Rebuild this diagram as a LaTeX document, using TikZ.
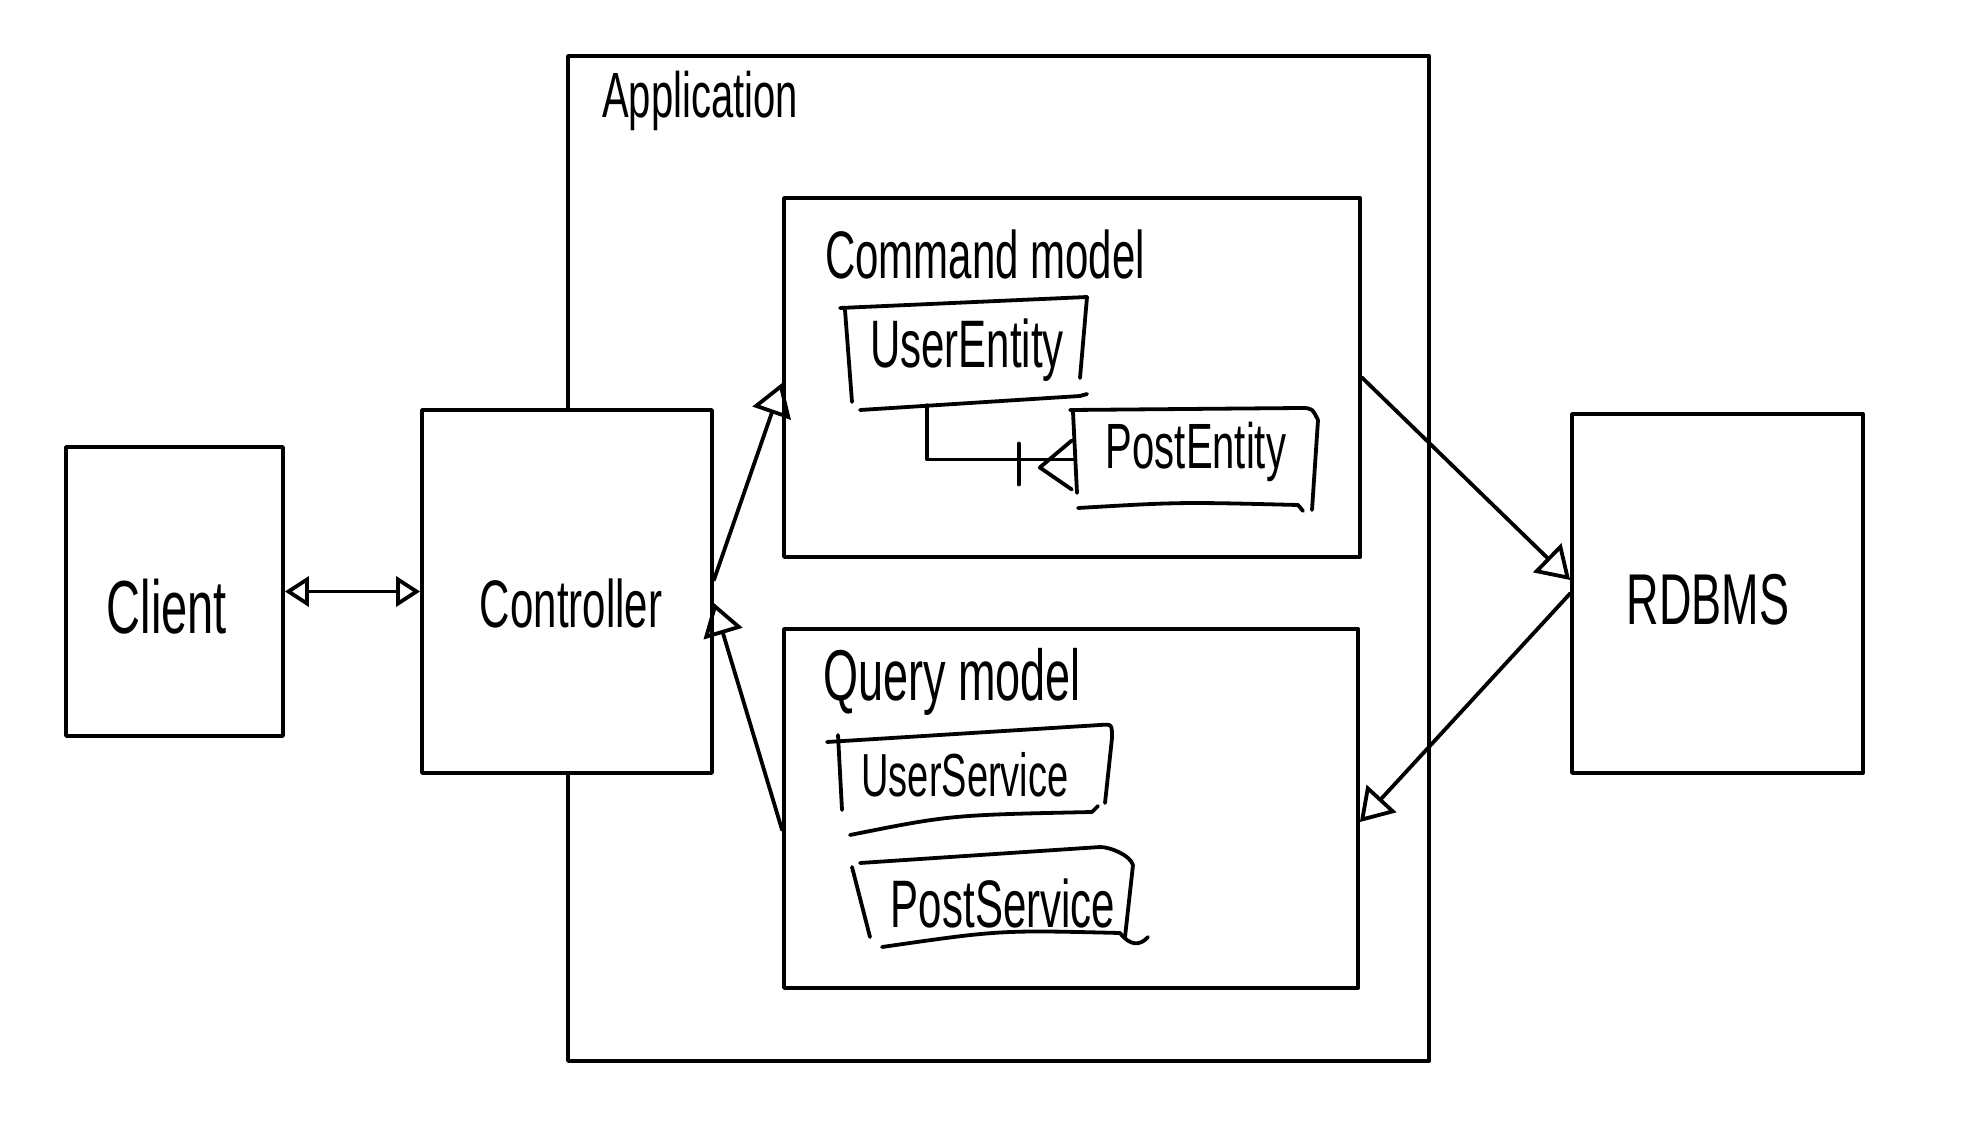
\documentclass[tikz,border=0pt]{standalone}
\usepackage{fontspec}
\setmainfont{Liberation Sans}
\usetikzlibrary{arrows.meta}
\newcommand\hw[2]{\scalebox{1}[1.6]{\fontsize{#1pt}{#1pt}\selectfont #2}}
\tikzset{
  ink/.style={line width=3.8pt, line cap=round, line join=round, black},
  bigbox/.style={ink, draw, fill=white, inner sep=0pt, rectangle},
  lbl/.style={inner sep=0pt},
  bighead/.style={-{Triangle[open, length=32pt, width=40pt, line width=3.8pt]}},
  smallhead/.style={{Triangle[open, length=24pt, width=30pt, line width=3.8pt]}-{Triangle[open, length=24pt, width=30pt, line width=3.8pt]}},
  subbox/.style={inner sep=0pt, rectangle, draw=none},
}
\begin{document}
\begin{tikzpicture}[x=1pt, y=-1pt]
\useasboundingbox (0,0) rectangle (1980,1126);
\fill[white] (0,0) rectangle (1980,1126);

% containers
\node[bigbox, minimum width=861pt, minimum height=1005pt] (app) at (998.5,558.5) {};
\node[lbl, anchor=west] (applbl) at (602,101) {\hw{40}{Application}};

\node[bigbox, minimum width=576pt, minimum height=359pt] (cmd) at (1072,377.5) {};
\node[lbl, anchor=west] (cmdlbl) at (825,254) {\hw{42}{Command model}};

\node[bigbox, minimum width=574pt, minimum height=359pt] (qry) at (1071,808.5) {};
\node[lbl, anchor=west] (qrylbl) at (823,682) {\hw{45}{Query model}};

\node[bigbox, minimum width=217pt, minimum height=289pt] (client) at (174.5,591.5) {};
\node[lbl] (clientlbl) at (167,607) {\hw{47}{Client}};

\node[bigbox, minimum width=290pt, minimum height=363pt] (ctrl) at (567,591.5) {};
\node[lbl] (ctrllbl) at (571,603) {\hw{42}{Controller}};

\node[bigbox, minimum width=291pt, minimum height=359pt] (rdb) at (1717.5,593.5) {};
\node[lbl] (rdblbl) at (1708,600) {\hw{45}{RDBMS}};

% inner (hand drawn) boxes
\node[subbox, minimum width=240pt, minimum height=105pt] (ue) at (965,352.5) {};
\node[lbl] (uelbl) at (967,350) {\hw{42}{UserEntity}};
\draw[ink] (840,308) -- (1087,297);
\draw[ink] (1087,297) -- (1080,378);
\draw[ink] (845,310) -- (852,402);
\draw[ink] (860,410) -- (1080,396) -- (1087,394);

\node[subbox, minimum width=240pt, minimum height=99pt] (pe) at (1195,459.5) {};
\node[lbl] (pelbl) at (1196,452) {\hw{40}{PostEntity}};
\draw[ink] (1070,410) -- (1300,408) .. controls (1312,408) .. (1318,420);
\draw[ink] (1318,420) -- (1312,510);
\draw[ink] (1073,412) -- (1077,493);
\draw[ink] (1078,508) .. controls (1180,502) .. (1298,505) -- (1303,511);

\node[lbl] (uslbl) at (965,775) {\hw{38}{UserService}};
\draw[ink] (827,742) -- (1100,725) .. controls (1112,724) .. (1112,738);
\draw[ink] (1112,738) -- (1105,803);
\draw[ink] (838,735) -- (842,810);
\draw[ink] (850,835) .. controls (950,815) .. (1092,812) -- (1098,806);

\node[lbl] (pslbl) at (1003,903) {\hw{42}{PostService}};
\draw[ink] (860,863) -- (1100,847) .. controls (1110,847) and (1130,855) .. (1133,865);
\draw[ink] (1133,865) -- (1125,937);
\draw[ink] (852,867) -- (870,937);
\draw[ink] (882,947) .. controls (1000,930) .. (1120,933) .. controls (1130,946) and (1140,946) .. (1148,937);

% relation UserEntity -> PostEntity
\draw[ink] ([xshift=-38pt]ue.south) |- (pe.west);
\draw[ink] ([xshift=-56pt,yshift=16pt]pe.west) -- ([xshift=-56pt,yshift=-25pt]pe.west);
\draw[ink] ([xshift=-3pt,yshift=19pt]pe.west) -- ([xshift=-35pt,yshift=-8pt]pe.west) -- ([xshift=-3pt,yshift=-30pt]pe.west);

% connectors
\draw[ink, smallhead] (client.east) -- (ctrl.west);
\draw[ink, bighead] ([yshift=11.5pt]ctrl.east) -- ([yshift=-5.5pt]cmd.west);
\draw[ink, bighead] ([yshift=-21.5pt]qry.west) -- ([yshift=-11.5pt]ctrl.east);
\draw[ink, bighead] (cmd.east) -- ([yshift=13.5pt]rdb.west);
\draw[ink, bighead] (rdb.west) -- ([yshift=-13.5pt]qry.east);
\end{tikzpicture}
\end{document}
